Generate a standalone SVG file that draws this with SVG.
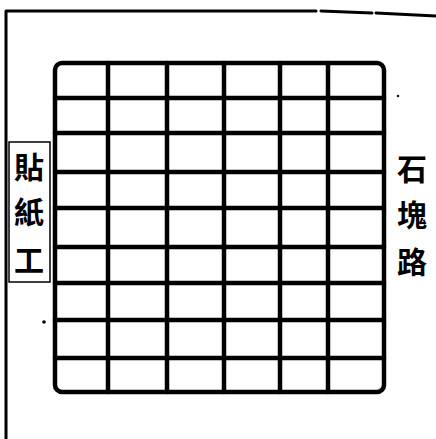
<svg xmlns="http://www.w3.org/2000/svg" width="436" height="439" viewBox="0 0 436 439">
<style>
.frame{fill:none;stroke:#000;stroke-width:3;stroke-linecap:round}
.grid{fill:none;stroke:#000;stroke-width:4.5;stroke-linecap:round;stroke-linejoin:round}
.lbl{fill:none;stroke:#000;stroke-width:1.5}
.t{font-family:"Noto Sans CJK TC","Noto Sans CJK SC",sans-serif;font-size:30px;font-weight:600;fill:#000;text-anchor:middle;dominant-baseline:central}
</style>
<rect width="436" height="439" fill="#fff"/>
<g id="frame">
<path class="frame" d="M6,11 L316,11 M321,11 L372,13 M376,13 L436,16 M6,11 L6,439"/>
</g>
<g id="blocks">
<rect class="grid" x="55" y="63" width="329" height="329" rx="7"/>
<path class="grid" d="M108,63 L108,392 M167,63 L167,392 M224,63 L224,392 M280,63 L280,392 M328,63 L328,392"/>
<path class="grid" d="M55,98 L384,98 M55,133 L384,133 M55,172 L384,172 M55,208 L384,208 M55,247 L384,247 M55,283 L384,283 M55,320 L384,320 M55,358 L384,358"/>
</g>
<g id="label-left">
<rect class="lbl" x="9" y="142" width="41" height="140"/>
<text class="t" x="29" y="165">貼</text>
<text class="t" x="29" y="210">紙</text>
<text class="t" x="29" y="258">工</text>
</g>
<g id="label-right">
<text class="t" x="412" y="167" font-size="32">石</text>
<text class="t" x="412" y="213" font-size="32">塊</text>
<text class="t" x="412" y="260" font-size="32">路</text>
</g>
<g id="specks">
<circle cx="44" cy="322" r="1.8" fill="#000"/>
<circle cx="398" cy="96" r="1.2" fill="#000"/>
</g>
</svg>
